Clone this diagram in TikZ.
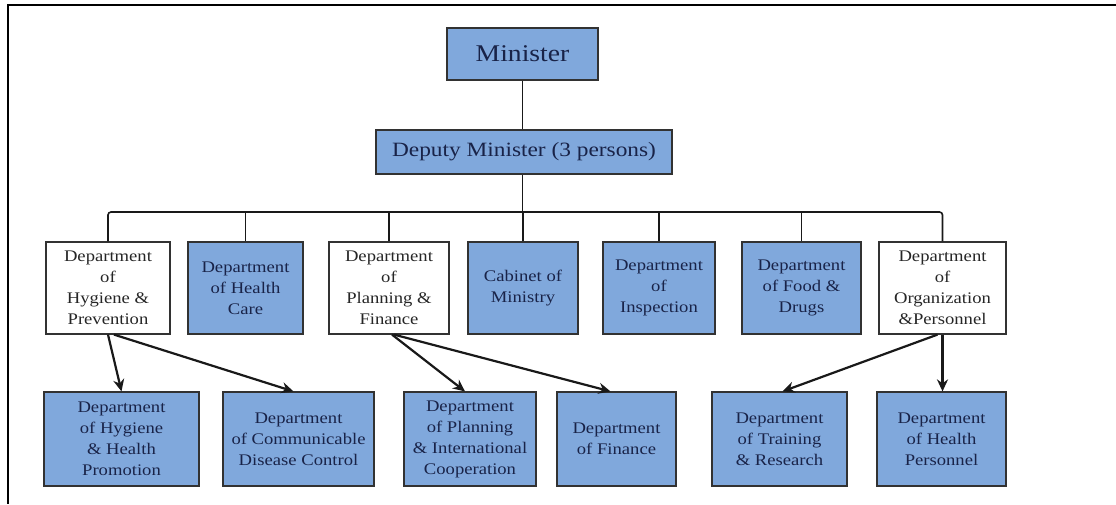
\documentclass[tikz,border=0pt]{standalone}
\usepackage{fontspec}
\setmainfont{Liberation Serif}[FakeStretch=1.15]
\usetikzlibrary{arrows.meta}
\definecolor{boxblue}{RGB}{128,168,220}
\definecolor{navytext}{RGB}{25,35,72}
\definecolor{edgegray}{RGB}{50,50,50}
\begin{document}
\begin{tikzpicture}[x=1pt,y=-1pt,
  basebox/.style={draw=edgegray, line width=1.2pt, align=center, inner sep=2pt,
    font=\fontsize{16.2}{21}\selectfont},
  bluebox/.style={basebox, fill=boxblue, text=navytext},
  whitebox/.style={basebox, fill=white, text=black!85},
  rowone/.style={minimum height=92pt},
  rowtwo/.style={minimum height=94pt},
  treeline/.style={draw=black!90, line width=1.6pt},
  arrowline/.style={draw=black!90, line width=2.2pt, -{Stealth[length=12pt,width=11pt]}},
  frameline/.style={draw=black, line width=2.8pt}
]
\useasboundingbox (0,0) rectangle (1116,504);
\draw[frameline] (1116,5) -- (8,5) -- (8,504);

% top
\node[bluebox, minimum width=151pt, minimum height=52pt, font=\fontsize{24}{28}\selectfont] (min) at (522.5,54) {Minister};
\node[bluebox, minimum width=296pt, minimum height=44pt, font=\fontsize{20.3}{24}\selectfont] (dep) at (524,152) {Deputy Minister (3 persons)};

% row one
\node[whitebox, rowone, minimum width=124pt] (hp)  at (108,288)   {Department\\of\\Hygiene \&\\Prevention};
\node[bluebox,  rowone, minimum width=115pt] (hc)  at (245.5,288) {Department\\of Health\\Care};
\node[whitebox, rowone, minimum width=120pt] (pf)  at (389,288)   {Department\\of\\Planning \&\\Finance};
\node[bluebox,  rowone, minimum width=110pt] (cab) at (523,288)   {Cabinet of\\Ministry};
\node[bluebox,  rowone, minimum width=112pt] (ins) at (659,288)   {Department\\of\\Inspection};
\node[bluebox,  rowone, minimum width=119pt] (fd)  at (801.5,288) {Department\\of Food \&\\Drugs};
\node[whitebox, rowone, minimum width=127pt] (op)  at (942.5,288) {Department\\of\\Organization\\\&Personnel};

% row two
\node[bluebox, rowtwo, minimum width=155pt] (hhp) at (121.5,439) {Department\\of Hygiene\\\& Health\\Promotion};
\node[bluebox, rowtwo, minimum width=151pt] (cdc) at (298.5,439) {Department\\of Communicable\\Disease Control};
\node[bluebox, rowtwo, minimum width=132pt] (pic) at (470,439)   {Department\\of Planning\\\& International\\Cooperation};
\node[bluebox, rowtwo, minimum width=119pt] (fin) at (616.5,439) {Department\\of Finance};
\node[bluebox, rowtwo, minimum width=135pt] (tr)  at (779.5,439) {Department\\of Training\\\& Research};
\node[bluebox, rowtwo, minimum width=129pt] (hpe) at (941.5,439) {Department\\of Health\\Personnel};

% tree
\coordinate (busy) at (0,212);
\draw[treeline] (min.south) -- (min.south |- dep.north);
\draw[treeline] (min.south |- dep.south) -- (min.south |- busy);
\draw[treeline, rounded corners=3pt] (hp.north) -- (hp.north |- busy) -- (op.north |- busy) -- (op.north);
\foreach \n in {hc,pf,cab,ins,fd}
  \draw[treeline] (\n.north) -- (\n.north |- busy);

% arrows
\draw[arrowline] (hp.south) -- (hhp.north);
\draw[arrowline] ([xshift=6pt]hp.south) -- ([xshift=-5pt]cdc.north);
\draw[arrowline] ([xshift=3pt]pf.south) -- ([xshift=-5pt]pic.north);
\draw[arrowline] ([xshift=5pt]pf.south) -- ([xshift=-6pt]fin.north);
\draw[arrowline] ([xshift=-5pt]op.south) -- ([xshift=3pt]tr.north);
\draw[arrowline] (op.south) -- (op.south |- hpe.north);
\end{tikzpicture}
\end{document}
